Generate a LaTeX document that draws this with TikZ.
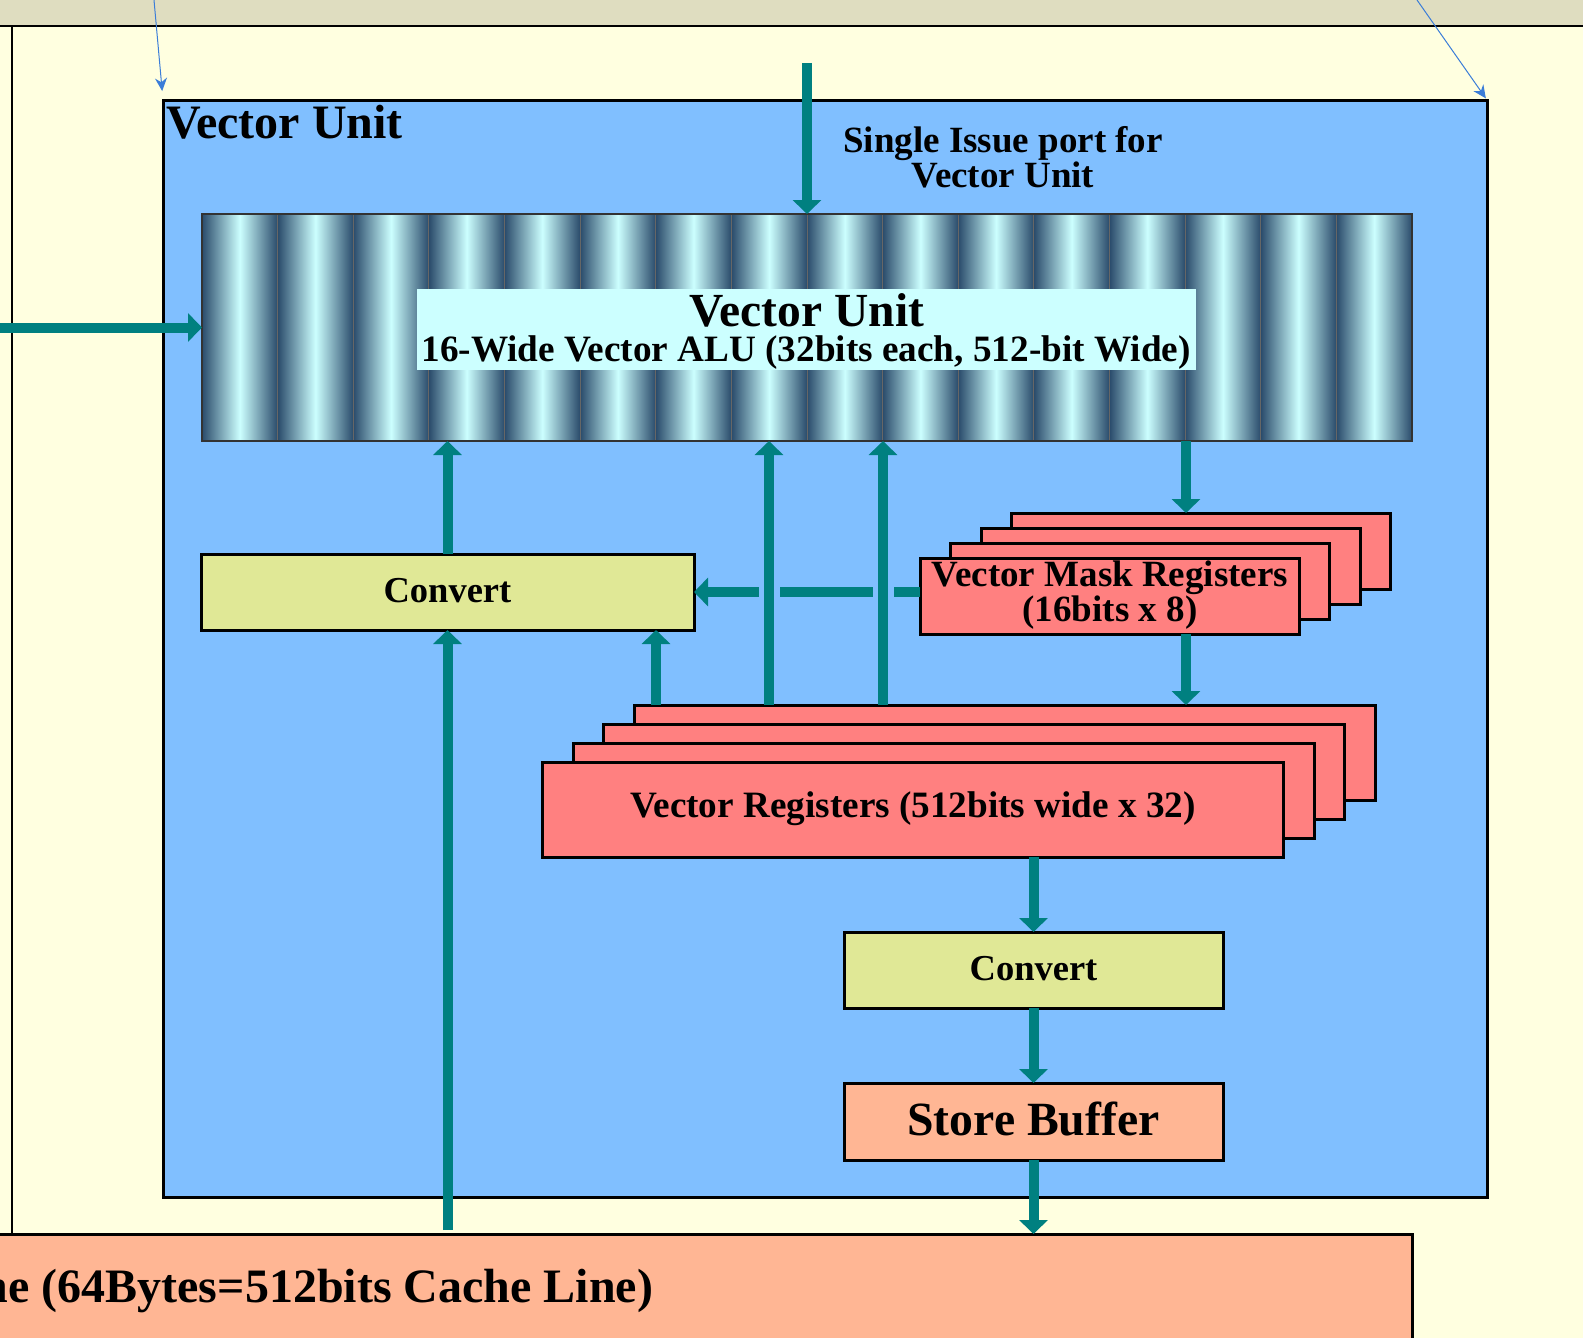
\documentclass[tikz,border=0pt]{standalone}
\usepackage{fontspec}
\setmainfont{Liberation Serif}
\usetikzlibrary{arrows.meta,calc}
\definecolor{bgyel}{HTML}{FFFFE0}
\definecolor{band}{HTML}{DFDDC0}
\definecolor{vublue}{HTML}{80BFFF}
\definecolor{tealc}{HTML}{008080}
\definecolor{aludark}{HTML}{2A4B6B}
\definecolor{alulight}{HTML}{CCFFFF}
\definecolor{convc}{HTML}{E0E896}
\definecolor{regc}{HTML}{FF8080}
\definecolor{peach}{HTML}{FFB694}
\definecolor{thinblue}{HTML}{3B7DD8}
\newcommand\myfs[1]{\fontsize{#1}{#1}\selectfont\bfseries}
\begin{document}
\begin{tikzpicture}[x=1pt,y=-1pt,
  box/.style={draw=black, line width=3pt, inner sep=0pt, outer sep=0pt, anchor=north west},
  convbox/.style={box, fill=convc, minimum width=#1, minimum height=76pt, font=\myfs{36.5}},
  maskbox/.style={box, fill=regc, minimum width=379pt, minimum height=76pt},
  vrbox/.style={box, fill=regc, minimum width=741pt, minimum height=95pt},
  txt/.style={inner sep=0pt, outer sep=0pt, anchor=base},
  tarrow/.style={draw=tealc, line width=10pt, -{Triangle[width=28pt,length=14pt]}},
  tline/.style={thinblue, line width=1pt, -{Stealth[length=13pt,width=12pt]}}
]
\useasboundingbox (0,0) rectangle (1583,1338);
\clip (0,0) rectangle (1583,1338);
% background
\fill[bgyel] (0,0) rectangle (1583,1338);
\fill[band] (0,0) rectangle (1583,26);
\draw[line width=2pt] (0,26) -- (1583,26);
\draw[line width=2pt] (12,26) -- (12,1234);

% vector unit
\node[box, fill=vublue, minimum width=1324pt, minimum height=1097pt] (vu) at (163,100) {};
\node[txt, anchor=base west, font=\myfs{48}] (vutitle) at (166,138) {Vector Unit};
\node[txt, font=\myfs{37}] (port1) at (1003,152) {Single Issue port for};
\node[txt, font=\myfs{37}] (port2) at (1003,187) {Vector Unit};

% ALU with 16 lanes
\foreach \i in {0,...,15}{
  \shade[left color=aludark, right color=aludark, middle color=alulight]
    ({202+\i*75.625},214) rectangle ({202+(\i+1)*75.625},441);
}
\foreach \i in {1,...,15}{
  \draw[gray!80!black, line width=0.8pt] ({202+\i*75.625},214) -- ({202+\i*75.625},441);
}
\node[box, draw=black!80, line width=1.5pt, minimum width=1210pt, minimum height=227pt] (alu) at (202,214) {};
\node[box, draw=none, fill=alulight, minimum width=779pt, minimum height=81pt] (alulabel) at (417,289) {};
\node[txt, font=\myfs{47.5}] (alut1) at (807,326) {Vector Unit};
\node[txt, font=\myfs{37.2}] (alut2) at (806,361) {16-Wide Vector ALU (32bits each, 512-bit Wide)};

% convert (left)
\node[convbox=493pt] (conv1) at (201,554) {\raisebox{3pt}{Convert}};

% mask registers stack
\node[maskbox] (mask4) at (1011,513) {};
\node[maskbox] (mask3) at (981,528) {};
\node[maskbox] (mask2) at (950,543) {};
\node[maskbox] (mask1) at (920,558) {};
\node[txt, font=\myfs{37}] (maskt1) at (1110,586) {Vector Mask Registers};
\node[txt, font=\myfs{37}] (maskt2) at (1110,621) {(16bits x 8)};

% vector registers stack
\node[vrbox] (vr4) at (634,705) {};
\node[vrbox] (vr3) at (603,724) {};
\node[vrbox] (vr2) at (573,743) {};
\node[vrbox] (vr1) at (542,762) {};
\node[txt, font=\myfs{37.2}] (vrt) at (913,817) {Vector Registers (512bits wide x 32)};

% convert (right) and store buffer
\node[convbox=379pt] (conv2) at (844,932) {\raisebox{3pt}{Convert}};
\node[box, fill=peach, minimum width=379pt, minimum height=77pt, font=\myfs{47.7}] (store) at (844,1083) {\raisebox{5pt}{Store Buffer}};

% cache
\node[box, fill=peach, minimum width=1432pt, minimum height=150pt] (cache) at (-20,1234) {};
\node[txt, anchor=base east, font=\myfs{48}] (cachet) at (653,1302) {Cache (64Bytes=512bits Cache Line)};

% coordinates for arrow columns
\coordinate (cA) at (1186,0);
\coordinate (cB) at (769,0);
\coordinate (cC) at (883,0);
\coordinate (cD) at (656,0);
\coordinate (inL) at (0,327.5);
\coordinate (inT) at (807,63);
\coordinate (b1) at (154,0);
\coordinate (b2) at (1417,0);

% arrows
\draw[tarrow] (inL) -- (alu.west);
\draw[tarrow] (inT) -- (inT |- alu.north);
\draw[tarrow] (alu.south -| cA) -- (mask4.north -| cA);
\draw[tarrow] (mask1.south -| cA) -- (vr4.north -| cA);
\draw[tarrow] (mask1.west |- conv1.east) -- (conv1.east);
\draw[vublue, line width=21pt] (cB |- conv1.north) -- (cB |- conv1.south);
\draw[vublue, line width=21pt] (cC |- conv1.north) -- (cC |- conv1.south);
\draw[tarrow] (vr4.north -| cB) -- (alu.south -| cB);
\draw[tarrow] (vr4.north -| cC) -- (alu.south -| cC);
\draw[tarrow] (vr4.north -| cD) -- (conv1.south -| cD);
\draw[tarrow] (conv1.north) -- (conv1.north |- alu.south);
\draw[tarrow, shorten <=4pt] (cache.north -| conv1.south) -- (conv1.south);
\draw[tarrow] (vr1.south -| conv2.north) -- (conv2.north);
\draw[tarrow] (conv2.south) -- (store.north);
\draw[tarrow] (store.south) -- (store.south |- cache.north);

% thin blue arrows
\draw[tline, shorten >=9pt] (b1) -- (vu.north west);
\draw[tline, shorten >=2pt] (b2) -- (vu.north east);
\end{tikzpicture}
\end{document}
